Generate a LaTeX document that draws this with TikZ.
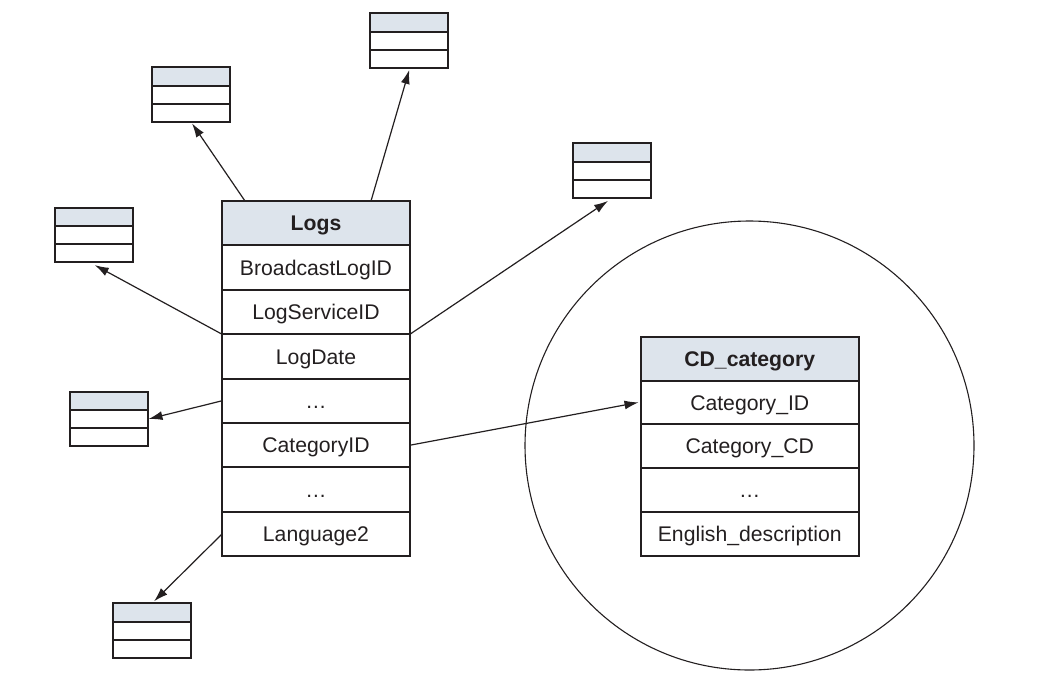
\documentclass[tikz,border=0pt]{standalone}
\usepackage{fontspec}
\setmainfont{Liberation Sans}
\usetikzlibrary{arrows.meta,calc,positioning}
\definecolor{hdr}{HTML}{DDE4EC}
\definecolor{ink}{HTML}{231F20}
\begin{document}
\begin{tikzpicture}[x=1pt,y=-1pt,
  cell/.style={draw=ink,line width=2pt,rectangle,inner sep=0pt,outer sep=0pt,anchor=north west,minimum width=188pt,minimum height=44.4pt,font=\fontsize{21.2}{24}\selectfont,text=ink,text height=15.2pt,text depth=0pt},
  head/.style={cell,fill=hdr,font=\fontsize{21.2}{24}\selectfont\bfseries},
  cdcell/.style={cell,minimum width=218.5pt,minimum height=43.8pt},
  cdhead/.style={head,minimum width=218.5pt,minimum height=43.8pt},
  mini/.style={draw=ink,line width=2pt,rectangle,inner sep=0pt,outer sep=0pt,anchor=north west,minimum width=77.5pt,minimum height=18.2pt},
  minih/.style={mini,fill=hdr},
  link/.style={draw=ink,line width=1.2pt,-{Latex[length=14pt,width=9pt]}}]
\useasboundingbox (0,0) rectangle (1051,699);

% big circle
\node[circle,draw=ink,line width=1.1pt,minimum size=449pt,inner sep=0pt] (circ) at (749.5,445.5) {};

% Logs table
\node[head] (lh) at (222,201) {Logs};
\node[cell,below=0pt of lh] (l1) {BroadcastLogID};
\node[cell,below=0pt of l1] (l2) {LogServiceID};
\node[cell,below=0pt of l2] (l3) {LogDate};
\node[cell,below=0pt of l3] (l4) {…};
\node[cell,below=0pt of l4] (l5) {CategoryID};
\node[cell,below=0pt of l5] (l6) {…};
\node[cell,below=0pt of l6] (l7) {Language2};

% CD_category table
\node[cdhead] (ch) at (640.5,336.7) {CD\_category};
\node[cdcell,below=0pt of ch] (c1) {Category\_ID};
\node[cdcell,below=0pt of c1] (c2) {Category\_CD};
\node[cdcell,below=0pt of c2] (c3) {…};
\node[cdcell,below=0pt of c3] (c4) {English\_description};

% small tables
\node[minih] (t1h) at (152.3,67.3) {};
\node[mini,below=0pt of t1h] (t1b) {};
\node[mini,below=0pt of t1b] (t1c) {};

\node[minih] (t2h) at (370,13.3) {};
\node[mini,below=0pt of t2h] (t2b) {};
\node[mini,below=0pt of t2b] (t2c) {};

\node[minih] (t3h) at (573.3,143.3) {};
\node[mini,below=0pt of t3h] (t3b) {};
\node[mini,below=0pt of t3b] (t3c) {};

\node[minih] (t4h) at (55,207.5) {};
\node[mini,below=0pt of t4h] (t4b) {};
\node[mini,below=0pt of t4b] (t4c) {};

\node[minih] (t5h) at (70,391.7) {};
\node[mini,below=0pt of t5h] (t5b) {};
\node[mini,below=0pt of t5b] (t5c) {};

\node[minih] (t6h) at (113.3,603.3) {};
\node[mini,below=0pt of t6h] (t6b) {};
\node[mini,below=0pt of t6b] (t6c) {};

% connectors
\draw[link] ($(lh.north west)+(23,0)$) -- ($(t1c.south)+(1,1.5)$);
\draw[link] ($(lh.north west)+(149,0)$) -- ($(t2c.south)+(0.5,2)$);
\draw[link] (l2.south east) -- ($(t3c.south)+(-4,3)$);
\draw[link] (l2.south west) -- ($(t4c.south)+(1,3)$);
\draw[link] (l4.west) -- ($(t5b.east)+(1,0)$);
\draw[link] (l7.west) -- ($(t6h.north)+(2,-2)$);
\draw[link] (l5.east) -- ($(c1.west)+(-2,0)$);
\end{tikzpicture}
\end{document}
